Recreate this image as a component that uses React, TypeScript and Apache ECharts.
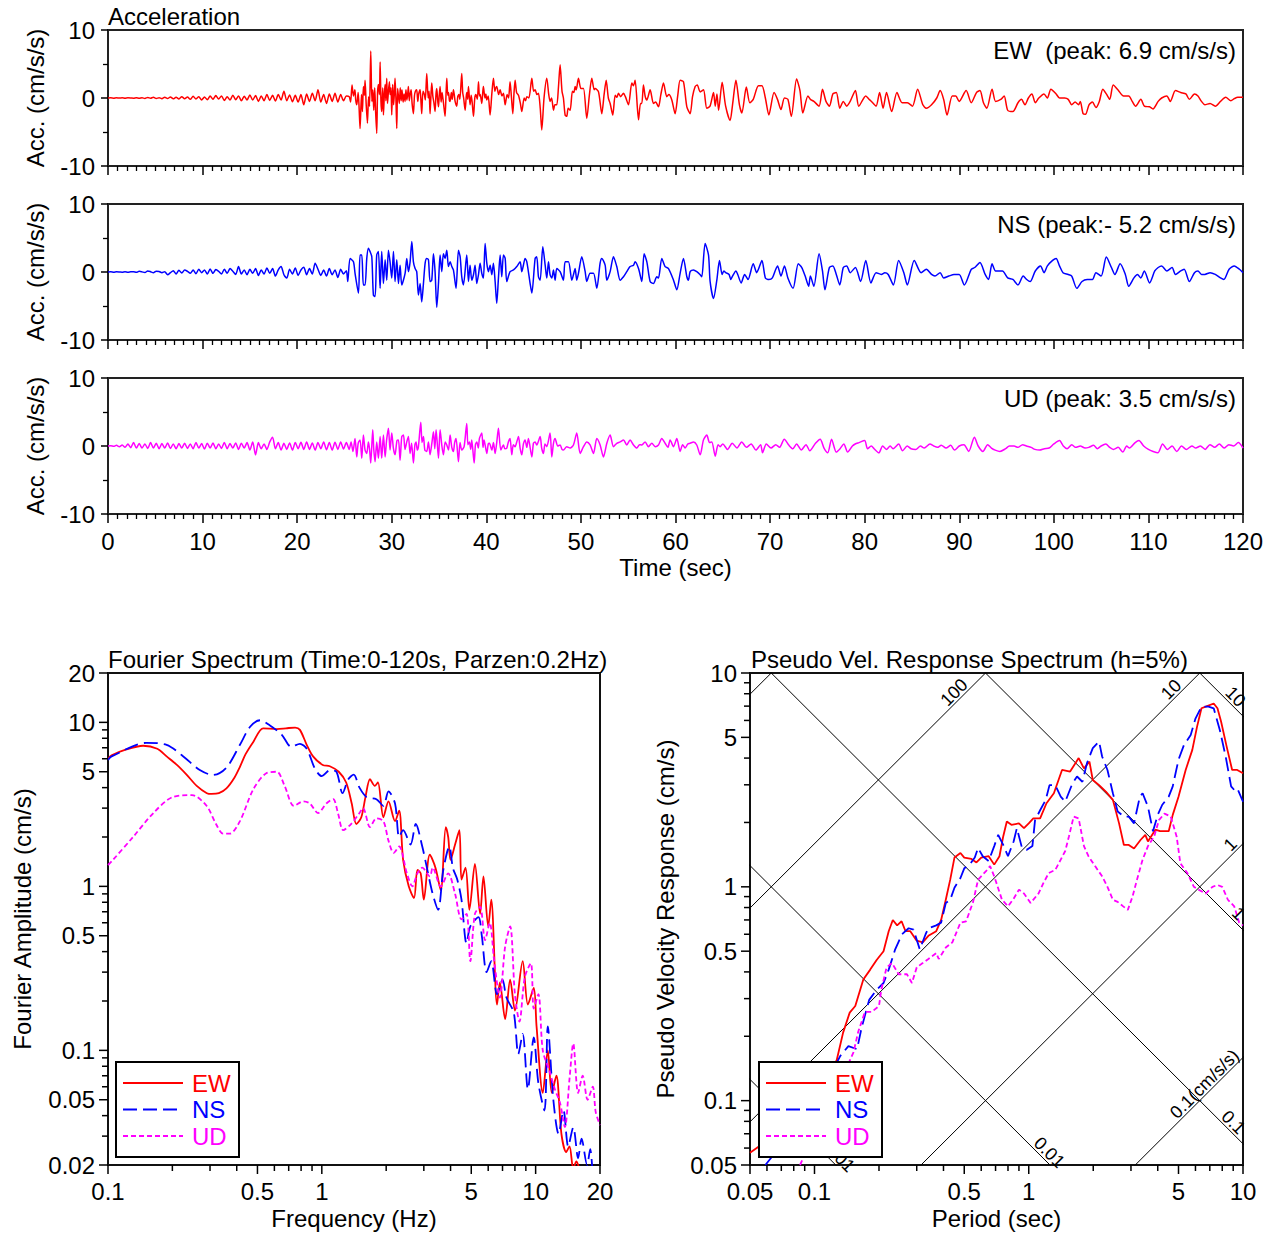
import React, { useEffect, useRef } from 'react';
import * as echarts from 'echarts';

const FONT = "'Liberation Sans', Arial, Helvetica, sans-serif";
const FS = 24;

// ---------- Time histories ----------
const TIME_MAX = 120;
const NOISE_DT = 0.3; // spacing of the pre-event noise samples (s)

const ewNoise = [
  0, 0.02, -0.02, 0.03, -0.01, 0.02, -0.03, 0.02, 0.01, -0.02,
  0.04, -0.05, 0.03, -0.06, 0.08, -0.04, 0.1, -0.08, 0.05, -0.1,
  0.12, -0.08, 0.15, -0.12, 0.1, -0.15, 0.2, -0.1, 0.15, -0.2,
  0.25, -0.15, 0.2, -0.3, 0.15, -0.25, 0.3, -0.2, 0.35, -0.15,
  0.3, -0.35, 0.2, -0.3, 0.4, -0.25, 0.3, -0.4, 0.25, -0.3,
  0.45, -0.3, 0.35, -0.5, 0.3, -0.4, 0.5, -0.35, 0.4, -0.45,
  0.5, -0.3, 1.0, -0.4, 0.45, -0.55, 0.4, -0.6, 0.5, -1.0,
  0.6, -0.5, 0.7, -0.4, 1.2, -0.6, 0.5, -0.8, 0.6, -0.5,
  0.7, -0.6, 0.5, -0.4, 0.3,
];
const ewWave: [number, number][] = [
  [25.5,0.2],[25.65,-0.6],[25.8,1.9],[25.95,0.3],[26.1,1.2],[26.2,-0.4],[26.3,-1.0],[26.45,0.8],[26.55,-1.5],[26.65,-4.5],
  [26.8,0.5],[26.9,-2.0],[27.0,1.7],[27.1,0.4],[27.18,2.6],[27.3,-1.0],[27.43,-3.7],[27.55,0.2],[27.65,-1.2],[27.78,6.9],
  [27.9,-0.5],[28.0,1.2],[28.1,-1.8],[28.2,1.5],[28.3,-2.2],[28.41,-5.2],[28.5,0.8],[28.6,2.0],[28.7,0.5],[28.77,5.3],
  [28.86,-0.5],[28.94,-2.0],[29.05,1.5],[29.12,-2.5],[29.22,0.6],[29.3,2.0],[29.38,-0.4],[29.47,2.9],[29.55,-0.8],[29.65,1.0],
  [29.75,2.4],[29.82,0.5],[29.92,1.5],[30.0,-2.5],[30.1,2.0],[30.2,-1.0],[30.28,0.8],[30.35,2.9],[30.45,-0.5],[30.53,-4.5],
  [30.62,1.4],[30.71,0.2],[30.8,-0.8],[30.9,1.5],[31.0,-0.4],[31.08,1.2],[31.2,-0.6],[31.3,0.6],[31.41,-0.5],[31.5,1.2],
  [31.6,-0.3],[31.7,0.8],[31.76,1.7],[31.85,-0.4],[31.95,0.6],[32.05,1.2],[32.15,-0.8],[32.29,-2.3],[32.4,0.3],[32.5,1.0],
  [32.64,1.2],[32.75,-0.5],[32.85,0.6],[33.0,1.2],[33.1,-0.8],[33.17,-2.3],[33.3,1.0],[33.45,0.5],[33.55,-0.3],[33.7,3.6],
  [33.85,0.0],[33.95,1.0],[34.05,-2.3],[34.15,0.5],[34.23,2.2],[34.35,0.2],[34.45,-0.6],[34.58,-2.0],[34.68,0.6],[34.76,1.4],
  [34.85,-0.3],[34.94,-1.3],[35.02,0.4],[35.11,1.7],[35.22,-0.6],[35.32,0.8],[35.45,-0.5],[35.64,-2.7],[35.74,0.6],[35.82,2.9],
  [35.92,0.4],[36.0,0.8],[36.1,-0.4],[36.17,-0.5],[36.3,0.8],[36.4,-0.2],[36.52,1.2],[36.62,0.4],[36.7,-0.5],[36.87,-1.2],
  [36.98,0.2],[37.1,0.5],[37.2,-0.2],[37.4,3.6],[37.5,0.8],[37.6,0.0],[37.76,-1.8],[37.88,0.3],[37.95,0.8],[38.03,-0.2],
  [38.11,1.7],[38.28,-1.0],[38.4,0.4],[38.5,-0.6],[38.64,-2.7],[38.78,0.0],[38.9,0.5],[39.05,-0.2],[39.17,2.4],[39.27,0.3],
  [39.35,0.5],[39.52,-0.8],[39.62,0.8],[39.69,1.7],[39.85,0.0],[39.95,0.6],[40.05,-0.3],[40.2,0.3],[40.4,-2.5],[40.58,0.6],
  [40.75,2.9],[40.9,1.0],[41.0,1.5],[41.1,1.7],[41.3,0.5],[41.46,1.2],[41.65,0.3],[41.81,0.7],[41.99,-1.0],[42.2,0.5],
  [42.35,0.0],[42.51,2.4],[42.65,0.2],[42.8,-2.3],[42.92,0.6],[43.04,2.6],[43.2,0.8],[43.4,0.4],[43.6,-0.8],[43.75,-2.0],
  [44.0,0.0],[44.15,-0.4],[44.28,0.2],[44.5,0.0],[44.81,2.9],[45.0,1.0],[45.16,1.2],[45.35,0.5],[45.51,0.7],[45.7,-1.5],
  [45.86,-4.7],[46.1,0.0],[46.39,2.9],[46.6,0.5],[46.74,-0.5],[46.9,0.0],[47.1,-1.8],[47.25,-1.0],[47.45,-1.0],[47.62,1.5],
  [47.8,4.9],[48.0,1.0],[48.15,0.0],[48.33,-2.5],[48.5,-2.7],[48.65,-1.5],[48.86,-1.8],[49.1,1.0],[49.25,0.8],[49.39,1.7],
  [49.5,1.2],[49.74,2.9],[50.0,1.4],[50.27,1.4],[50.62,-3.0],[50.9,0.5],[51.15,2.9],[51.4,1.2],[51.5,1.4],[51.86,0.9],
  [52.21,-2.3],[52.45,0.5],[52.67,2.6],[52.9,0.0],[53.09,-0.8],[53.37,-2.5],[53.62,0.4],[53.8,0.1],[53.97,0.7],[54.2,0.2],
  [54.5,0.7],[54.7,0.2],[55.03,-1.0],[55.38,2.2],[55.55,1.8],[55.73,2.6],[56.09,-3.2],[56.3,-0.8],[56.44,-0.8],[56.61,1.9],
  [56.8,0.2],[56.97,-0.3],[57.32,1.2],[57.67,-0.8],[57.9,-0.6],[58.2,-1.3],[58.45,0.5],[58.73,2.2],[59.08,0.2],[59.3,0.5],
  [59.61,-0.3],[59.96,-2.3],[60.25,0.5],[60.49,2.6],[60.84,2.4],[61.2,-1.3],[61.55,-2.3],[61.8,0.2],[62.08,1.7],[62.3,1.9],
  [62.61,0.9],[62.96,1.2],[63.31,-1.5],[63.65,-1.2],[64.02,0.8],[64.2,-1.2],[64.38,0.6],[64.56,-1.8],[64.93,2.3],[65.3,-1.2],
  [65.77,-3.3],[66.03,-1.0],[66.39,2.6],[66.76,-1.0],[67.02,-2.2],[67.49,1.6],[67.86,-0.7],[68.22,-0.2],[68.77,1.8],[69.14,1.8],
  [69.5,0.0],[69.87,-2.5],[70.42,0.8],[70.78,-0.2],[71.15,-1.7],[71.52,0.0],[71.88,-0.2],[72.25,-2.7],[72.8,2.8],[73.16,1.1],
  [73.46,-2.2],[74.0,0.3],[74.26,-0.2],[74.63,-0.5],[75.18,-1.2],[75.54,1.3],[75.91,-0.5],[76.27,-1.2],[76.64,0.6],[77.0,0.8],
  [77.37,-1.5],[77.74,-0.5],[78.1,-1.2],[78.47,-0.5],[79.02,1.1],[79.38,-1.2],[80.12,0.3],[80.48,-0.2],[80.85,-0.7],[81.21,-1.2],
  [81.58,0.8],[81.95,-1.5],[82.31,0.8],[82.86,-2.0],[83.41,0.8],[83.96,-0.7],[84.51,-0.7],[85.05,-1.2],[85.6,1.3],[86.15,-1.0],
  [86.52,-1.5],[87.07,-1.0],[87.62,0.0],[87.98,1.1],[88.35,-0.2],[88.71,-2.5],[89.26,0.3],[89.63,0.3],[89.99,-0.5],[90.73,1.1],
  [91.27,-0.7],[91.82,0.8],[92.19,1.1],[92.56,-0.7],[92.92,-1.5],[93.47,1.3],[93.84,-0.5],[94.39,-0.2],[94.75,0.3],[95.12,-1.8],
  [95.67,-2.0],[96.21,-0.7],[96.58,-0.2],[96.95,-1.0],[97.31,0.0],[97.68,0.6],[98.04,-0.7],[98.41,0.0],[98.96,0.6],[99.32,0.0],
  [99.69,1.3],[100.24,0.6],[100.6,0.0],[101.15,0.0],[101.52,-0.2],[101.89,-1.0],[102.25,-0.6],[102.62,-1.0],[102.8,-0.5],[103.09,-2.3],
  [103.35,-2.4],[103.72,-1.0],[104.08,-0.6],[104.45,-1.4],[104.81,-0.5],[105.18,1.3],[105.55,0.6],[105.91,-0.2],[106.28,1.9],[106.83,1.1],
  [107.37,0.3],[107.92,0.3],[108.29,-0.5],[108.65,-1.2],[109.2,-0.2],[109.57,-1.2],[110.12,-1.3],[110.48,-1.6],[111.03,-0.5],[111.4,0.0],
  [111.95,0.3],[112.31,-0.5],[112.86,1.1],[113.41,0.8],[113.96,0.6],[114.33,-0.2],[114.87,0.6],[115.24,0.3],[115.61,-0.5],[115.97,-1.0],
  [116.52,-0.8],[117.07,-1.2],[117.62,-0.5],[118.17,0.1],[118.72,-0.4],[119.08,-0.1],[119.45,0.1],[120,0.1],
];

const nsNoise = [
  0, 0.02, -0.03, 0.03, 0.01, -0.02, 0.04, -0.03, 0.02, 0.05,
  -0.05, 0.1, 0.02, -0.08, 0.15, 0.05, -0.1, 0.12, 0.08, -0.1,
  0.05, -0.4, -0.1, 0.2, -0.3, 0.25, -0.15, 0.3, 0.1, -0.2,
  0.3, -0.25, 0.4, -0.1, 0.3, -0.3, 0.45, -0.2, 0.35, 0.1,
  -0.3, 0.4, -0.2, 0.5, 0.1, -0.35, 0.8, -0.3, 0.3, -0.4,
  0.4, -0.2, 0.5, -0.5, 0.3, -0.3, 0.6, -0.2, 0.5, -0.6,
  0.3, 0.8, -0.4, -0.9, 0.4, -0.3, 0.6, -0.5, 0.3, 0.7,
  -0.4, 0.5, -0.3, 1.3, 0.4, -0.5, 0.3, -0.6, 0.5, -0.4,
  0.3, -0.8, 0.4, -0.3, 0.2,
];
const nsWave: [number, number][] = [
  [25.35,-1.4],[25.59,2.0],[25.95,1.5],[26.12,-0.2],[26.48,-3.1],[26.65,2.5],[26.83,2.5],[27.0,-1.9],[27.18,-1.9],[27.36,2.0],
  [27.53,3.5],[27.71,3.0],[27.89,2.25],[28.06,-3.4],[28.24,-3.6],[28.41,2.5],[28.59,3.0],[28.77,-2.4],[28.94,3.0],[29.12,-1.7],
  [29.3,1.8],[29.47,-1.2],[29.65,3.2],[29.82,1.5],[30.0,-0.9],[30.18,3.0],[30.35,-1.4],[30.53,1.8],[30.71,-1.7],[30.88,1.0],
  [31.06,-1.9],[31.41,-0.2],[31.59,2.0],[31.76,0.05],[31.94,1.5],[32.12,4.5],[32.29,1.5],[32.47,0.5],[32.64,0.05],[32.82,-3.4],
  [33.0,-1.7],[33.17,-4.4],[33.35,-1.7],[33.53,1.3],[33.7,2.0],[33.88,1.8],[34.05,-1.4],[34.23,-1.2],[34.41,2.7],[34.58,0.05],
  [34.76,-5.2],[34.94,-1.7],[35.11,2.5],[35.29,0.05],[35.46,2.7],[35.64,2.0],[35.82,3.2],[35.99,0.8],[36.17,1.5],[36.35,0.8],
  [36.52,0.3],[36.8,-2.4],[37.05,3.2],[37.23,2.25],[37.4,-0.7],[37.58,-1.9],[37.93,2.5],[38.11,-1.4],[38.28,1.0],[38.46,-1.2],
  [38.64,-0.4],[38.81,1.0],[38.99,-1.7],[39.17,-0.4],[39.34,1.3],[39.52,-0.2],[39.69,-0.9],[39.87,4.2],[40.05,1.3],[40.22,0.05],
  [40.4,1.0],[40.58,-0.4],[40.75,1.3],[40.93,-1.4],[41.1,-4.6],[41.28,-0.9],[41.46,2.5],[41.63,-0.7],[41.81,2.5],[41.99,2.0],
  [42.16,-1.4],[42.51,0.05],[42.87,0.3],[43.22,0.8],[43.57,1.5],[43.75,0.05],[43.92,1.0],[44.1,2.0],[44.28,1.5],[44.63,-1.7],
  [44.81,-3.1],[45.16,2.0],[45.33,2.25],[45.51,-0.7],[45.69,-1.2],[45.97,3.7],[46.22,1.0],[46.39,-0.9],[46.57,1.5],[46.74,-0.4],
  [46.92,-0.9],[47.1,0.3],[47.27,-1.2],[47.45,0.5],[47.8,0.05],[48.15,-1.2],[48.33,1.5],[48.68,1.5],[49.04,-1.2],[49.21,-0.4],
  [49.39,0.5],[49.56,-1.2],[49.74,-0.2],[50.09,2.25],[50.45,0.05],[50.62,-1.4],[50.97,-0.2],[51.33,-0.2],[51.68,-2.4],[52.03,1.3],
  [52.21,2.0],[52.56,1.0],[52.74,-1.2],[53.09,0.05],[53.44,2.25],[53.79,0.8],[54.15,-1.2],[54.5,-0.7],[54.85,0.05],[55.2,0.8],
  [55.56,1.0],[55.73,1.5],[56.09,0.5],[56.44,-1.4],[56.68,2.7],[56.97,1.5],[57.32,-1.4],[57.67,-1.7],[58.02,-0.7],[58.2,-0.9],
  [58.55,2.0],[58.9,0.8],[59.26,0.5],[59.79,-1.2],[60.14,-2.6],[60.49,-0.2],[60.84,2.0],[61.2,-0.7],[61.37,-1.2],[61.55,0.05],
  [61.9,0.3],[62.25,0.05],[62.61,-0.4],[62.78,-0.7],[63.13,4.2],[63.49,2.5],[63.66,-1.4],[64.02,-3.9],[64.37,-1.2],[64.65,1.7],
  [64.93,-0.36],[65.11,0.15],[65.3,-0.1],[65.66,-0.36],[65.85,-1.1],[66.03,-0.6],[66.39,0.15],[66.58,-0.36],[66.94,-1.6],[67.31,-0.36],
  [67.67,-1.1],[68.22,1.2],[68.59,-0.1],[68.77,0.4],[69.14,1.7],[69.5,-0.87],[69.87,-1.1],[70.24,-0.87],[70.6,0.4],[70.79,0.9],
  [71.15,-0.6],[71.52,0.9],[71.88,-0.87],[72.43,-2.4],[72.98,1.2],[73.35,0.66],[73.71,-0.6],[74.08,-2.1],[74.26,-0.6],[74.63,-2.1],
  [75.18,2.7],[75.54,0.15],[75.8,-2.6],[76.27,0.66],[76.64,0.9],[77.0,-0.36],[77.37,-1.9],[77.74,0.66],[78.1,0.9],[78.47,-0.1],
  [79.02,0.66],[79.57,-1.4],[80.12,1.7],[80.66,-1.6],[81.21,-0.1],[81.76,-0.36],[82.13,-0.1],[82.49,-0.36],[83.04,-1.9],[83.59,1.7],
  [84.14,-0.1],[84.51,-1.9],[85.24,1.7],[85.97,-0.1],[86.52,0.4],[87.07,-0.36],[87.43,-0.6],[87.98,-0.1],[88.35,-0.87],[88.9,-0.6],
  [89.45,-0.36],[89.99,-0.36],[90.54,-1.9],[91.27,0.4],[91.64,0.66],[92.19,1.4],[92.74,-0.36],[93.1,-1.1],[93.47,1.2],[93.84,0.15],
  [94.2,0.15],[94.57,0.15],[95.12,-0.87],[95.67,-1.1],[96.21,-1.9],[96.76,-0.6],[97.13,-1.1],[97.5,-1.4],[98.04,0.15],[98.59,0.9],
  [98.96,-0.1],[99.32,0.9],[99.87,1.7],[100.24,2.0],[100.6,0.9],[100.97,-0.1],[101.52,-0.36],[101.89,-0.6],[102.43,-2.4],[102.98,-1.4],
  [103.53,-1.1],[104.08,-1.1],[104.45,-0.1],[105.0,-0.6],[105.55,2.2],[106.09,0.66],[106.46,-0.36],[107.01,1.2],[107.56,-0.36],[107.92,-2.1],
  [108.47,-0.87],[108.84,-0.36],[109.2,-0.87],[109.57,0.15],[110.12,-1.6],[110.67,0.15],[111.03,0.66],[111.4,0.9],[111.95,0.15],[112.5,0.66],
  [112.86,-0.36],[113.41,0.15],[113.78,0.4],[114.33,-1.4],[114.87,-0.1],[115.24,0.15],[115.61,-0.36],[115.97,-0.36],[116.52,-0.1],[117.07,-0.36],
  [117.62,-0.87],[117.98,-1.1],[118.53,0.4],[119.08,0.9],[119.63,0.4],[120,-0.1],
];

const udNoise = [
  0, 0.05, -0.05, 0.1, -0.1, 0.15, -0.2, 0.3, -0.25, 0.5,
  -0.3, 0.35, -0.3, 0.3, -0.35, 0.5, -0.3, 0.4, -0.4, 0.35,
  -0.3, 0.45, -0.35, 0.3, -0.4, 0.35, -0.3, 0.4, -0.35, 0.3,
  -0.4, 0.5, -0.3, 0.35, -0.45, 0.4, -0.3, 0.45, -0.4, 0.3,
  -0.35, 0.5, -0.4, 0.35, -0.3, 0.45, -0.5, 0.4, -0.3, 0.5,
  -0.6, 0.6, -1.3, 0.5, -0.4, 0.3, -0.5, 0.6, 1.3, -0.4,
  0.5, -0.6, 0.4, -0.5, 0.45, -0.6, 0.5, -0.4, 0.55, -0.5,
  0.6, -0.5, 0.45, -0.6, 0.5, -0.4, 0.6, -0.55, 0.5, -0.6,
  0.55, -0.5, 0.6, -0.45, 0.5,
];
const udWave: [number, number][] = [
  [25.5,-0.5],[25.7,0.6],[25.9,-0.8],[26.12,1.1],[26.3,-1.6],[26.45,0.4],[26.65,0.9],[26.83,-1.8],[27.0,1.6],[27.18,-0.6],
  [27.36,-1.1],[27.53,0.6],[27.65,-0.4],[27.78,-2.5],[27.99,2.4],[28.1,-0.5],[28.24,-2.3],[28.41,0.6],[28.59,-1.8],[28.77,1.4],
  [28.94,-1.8],[29.12,1.6],[29.3,-1.6],[29.45,0.8],[29.65,2.6],[29.82,-0.6],[30.0,1.9],[30.18,-0.4],[30.35,-1.3],[30.55,0.8],
  [30.71,0.9],[30.88,-2.1],[31.06,1.4],[31.24,1.6],[31.4,-0.5],[31.59,0.6],[31.76,1.4],[31.94,-1.1],[32.1,0.4],[32.29,-2.5],
  [32.45,0.2],[32.57,0.6],[32.7,-0.6],[32.82,-0.1],[33.07,3.5],[33.2,0.5],[33.35,1.4],[33.5,-0.6],[33.7,-0.8],[33.88,0.6],
  [34.05,-1.3],[34.25,0.5],[34.41,2.1],[34.55,-0.4],[34.69,2.4],[34.94,-1.8],[35.11,2.4],[35.3,0.0],[35.46,-1.3],[35.65,0.6],
  [35.82,0.15],[36.0,-0.6],[36.17,1.6],[36.35,-0.2],[36.52,-0.8],[36.65,0.5],[36.8,1.1],[37.05,-2.3],[37.22,0.5],[37.4,-0.6],
  [37.65,-0.1],[37.93,3.3],[38.05,0.2],[38.21,0.6],[38.35,-0.5],[38.46,0.9],[38.71,-2.5],[38.85,0.2],[38.99,0.6],[39.15,-0.3],
  [39.27,1.1],[39.52,1.9],[39.65,-0.2],[39.76,0.9],[40.05,-1.1],[40.2,0.3],[40.33,0.4],[40.58,-0.6],[40.75,0.5],[40.93,-1.1],
  [41.1,0.5],[41.28,2.6],[41.53,-0.6],[41.81,0.15],[41.95,-0.4],[42.16,-0.3],[42.33,0.6],[42.51,1.1],[42.69,-1.3],[42.85,0.2],
  [43.04,-0.1],[43.2,0.5],[43.4,1.4],[43.57,-0.3],[43.75,-1.3],[43.92,0.3],[44.1,0.9],[44.28,-0.2],[44.45,1.1],[44.81,-1.6],
  [44.98,0.4],[45.16,0.6],[45.33,0.15],[45.69,1.4],[45.85,-0.3],[46.04,-1.1],[46.2,0.3],[46.39,-0.1],[46.74,1.9],[46.92,-1.6],
  [47.1,0.4],[47.27,1.1],[47.55,0.0],[47.8,0.15],[48.0,-0.5],[48.15,-0.6],[48.5,-0.1],[48.86,-0.3],[49.21,0.15],[49.56,1.9],
  [49.92,-1.1],[50.27,-0.1],[50.62,0.6],[50.97,0.15],[51.33,-1.1],[51.68,1.1],[52.03,0.15],[52.38,-1.6],[52.74,0.4],[53.09,1.6],
  [53.44,-0.1],[53.79,0.4],[54.15,0.6],[54.5,0.9],[54.85,0.15],[55.2,0.9],[55.56,0.15],[55.91,-0.3],[56.2,0.2],[56.44,0.15],
  [56.79,0.6],[57.14,-0.1],[57.5,0.4],[57.85,-0.1],[58.2,0.15],[58.55,1.1],[58.9,0.4],[59.2,-0.2],[59.43,0.9],[59.79,-0.1],
  [60.14,1.1],[60.49,-0.8],[60.75,0.2],[61.02,-0.3],[61.3,0.3],[61.55,0.4],[61.9,0.6],[62.25,0.15],[62.61,-1.3],[62.96,0.9],
  [63.31,1.6],[63.6,0.5],[63.84,0.6],[64.2,-1.5],[64.5,0.2],[64.72,-0.1],[65.0,0.3],[65.5,-0.5],[66.0,0.4],[66.5,-0.3],
  [67.0,0.6],[67.5,-0.2],[68.0,0.3],[68.5,-0.6],[69.0,0.2],[69.2,-1.0],[69.6,0.3],[70.1,-0.3],[70.6,0.2],[71.0,-0.2],
  [71.5,1.0],[72.0,0.1],[72.4,-0.4],[72.8,0.3],[73.3,-0.6],[73.8,0.2],[74.2,-0.7],[74.8,0.4],[75.3,1.0],[75.7,-0.3],
  [76.1,-1.0],[76.5,1.0],[77.0,-0.9],[77.4,-0.4],[77.8,0.3],[78.2,-0.9],[78.7,0.0],[79.0,0.3],[79.4,0.5],[80.0,0.8],
  [80.3,-0.4],[80.7,0.0],[81.0,-0.4],[81.5,-1.0],[81.9,0.0],[82.3,-0.5],[82.7,0.0],[83.0,-0.4],[83.6,0.3],[84.0,-0.7],
  [84.5,0.0],[84.9,-0.4],[85.4,-0.5],[85.9,0.0],[86.3,-0.3],[86.9,0.3],[87.3,0.0],[87.7,-0.2],[88.1,0.1],[88.6,-0.3],
  [89.1,0.1],[89.5,-0.6],[90.0,0.0],[90.5,0.2],[91.0,-0.8],[91.6,1.3],[92.0,0.0],[92.5,-0.8],[93.0,0.2],[93.4,-0.3],
  [93.8,-0.6],[94.3,-0.8],[94.9,-0.4],[95.3,0.0],[95.8,0.0],[96.2,-0.2],[96.7,0.2],[97.1,0.0],[97.6,-0.2],[98.0,-0.5],
  [98.5,-0.6],[99.0,-0.4],[99.5,-0.3],[100.0,0.3],[100.6,0.8],[101.0,0.0],[101.4,-0.4],[101.9,0.2],[102.3,-0.2],[102.8,0.0],
  [103.3,-0.3],[103.7,-0.2],[104.2,0.1],[104.6,-0.4],[105.0,0.0],[105.5,0.3],[105.9,-0.2],[106.3,-0.5],[106.8,-0.2],[107.3,-0.9],
  [107.7,0.0],[108.0,-0.3],[108.6,0.5],[109.0,0.8],[109.5,0.0],[110.0,-0.5],[110.5,-0.8],[111.0,-1.0],[111.5,0.3],[112.0,-0.5],
  [112.5,0.0],[113.0,-0.8],[113.5,0.0],[114.0,-0.5],[114.6,0.0],[115.0,-0.3],[115.5,0.0],[116.0,-0.5],[116.5,0.2],[117.0,-0.2],
  [117.5,0.3],[118.0,-0.3],[118.5,0.2],[119.0,0.0],[119.5,0.5],[120.0,-0.3],
];

// ---------- Fourier spectra [frequency Hz, amplitude cm/s] ----------
const fourierEW: [number, number][] = [
  [0.1,6.0],[0.104,6.3],[0.12,6.8],[0.146,7.2],[0.17,6.9],[0.188,6.2],[0.21,5.5],[0.233,4.8],[0.26,4.1],[0.29,3.7],
  [0.305,3.66],[0.33,3.7],[0.358,3.96],[0.39,4.6],[0.414,5.36],[0.44,6.4],[0.478,7.6],[0.532,9.2],[0.616,9.1],[0.68,9.2],
  [0.75,9.3],[0.79,9.0],[0.85,7.3],[0.91,6.2],[1.01,5.5],[1.09,5.4],[1.2,5.0],[1.3,4.3],[1.38,3.2],[1.45,2.4],
  [1.53,2.64],[1.6,3.5],[1.68,4.5],[1.77,4.1],[1.83,4.3],[1.94,2.64],[2.05,3.3],[2.2,2.5],[2.3,2.9],[2.4,1.45],
  [2.55,1.0],[2.7,0.85],[2.8,1.26],[2.9,1.2],[3.0,0.83],[3.2,1.56],[3.4,1.3],[3.6,0.95],[3.8,2.3],[3.9,2.0],
  [4.0,1.45],[4.2,1.8],[4.4,2.2],[4.5,1.1],[4.7,1.3],[4.9,0.72],[5.2,1.37],[5.5,0.68],[5.7,1.15],[6.0,0.57],
  [6.2,0.83],[6.6,0.19],[6.8,0.26],[7.2,0.155],[7.6,0.27],[8.0,0.175],[8.7,0.35],[9.2,0.19],[9.8,0.24],[10.1,0.14],
  [10.8,0.055],[11.4,0.1],[11.9,0.055],[12.5,0.07],[13.2,0.031],[13.9,0.024],[14.4,0.026],[15.0,0.019],[15.5,0.021],[16.2,0.018],
  [17,0.015],
];
const fourierNS: [number, number][] = [
  [0.1,5.9],[0.104,6.2],[0.151,7.5],[0.188,7.3],[0.225,6.2],[0.27,5.1],[0.31,4.78],[0.358,5.3],[0.414,7.3],[0.462,9.4],
  [0.514,10.3],[0.57,9.6],[0.65,8.4],[0.72,7.1],[0.79,7.4],[0.85,6.9],[0.93,5.2],[1.0,4.7],[1.09,5.1],[1.17,5.0],
  [1.25,3.7],[1.33,4.5],[1.41,4.8],[1.5,4.0],[1.62,3.5],[1.8,3.4],[1.94,3.1],[2.05,3.8],[2.2,3.2],[2.3,2.0],
  [2.4,2.2],[2.6,1.8],[2.75,2.4],[2.95,1.75],[3.1,1.3],[3.3,0.9],[3.5,0.72],[3.7,1.26],[3.95,1.75],[4.1,1.3],
  [4.3,1.1],[4.5,0.83],[4.75,0.45],[4.95,0.57],[5.4,0.65],[5.6,0.5],[5.9,0.3],[6.2,0.35],[6.6,0.22],[7.0,0.27],
  [7.3,0.21],[7.9,0.17],[8.3,0.095],[8.7,0.126],[9.2,0.058],[9.8,0.12],[10.3,0.063],[11.0,0.043],[11.4,0.14],[12.1,0.05],
  [12.8,0.031],[13.5,0.043],[14.2,0.026],[15.0,0.034],[15.8,0.022],[16.4,0.029],[17.4,0.02],[18.0,0.025],[18.5,0.017],
];
const fourierUD: [number, number][] = [
  [0.1,1.35],[0.104,1.42],[0.131,2.0],[0.163,2.8],[0.2,3.5],[0.247,3.6],[0.289,3.1],[0.32,2.4],[0.345,2.1],[0.372,2.1],
  [0.414,2.5],[0.478,3.9],[0.55,4.9],[0.616,5.0],[0.67,4.1],[0.74,3.1],[0.82,3.3],[0.88,3.2],[0.96,2.8],[1.05,3.2],
  [1.13,3.4],[1.19,2.8],[1.26,2.2],[1.37,2.4],[1.5,2.8],[1.56,3.0],[1.68,2.3],[1.8,2.6],[1.94,2.5],[2.05,1.9],
  [2.17,1.6],[2.3,1.75],[2.5,1.2],[2.65,1.0],[2.8,1.2],[2.95,1.3],[3.2,1.15],[3.3,1.3],[3.6,1.0],[3.9,1.2],
  [4.2,0.9],[4.5,0.63],[4.75,0.68],[4.95,0.35],[5.2,0.68],[5.5,0.75],[5.8,0.47],[6.1,0.6],[6.4,0.35],[6.8,0.21],
  [7.2,0.43],[7.6,0.57],[8.0,0.22],[8.4,0.15],[8.9,0.28],[9.5,0.34],[9.8,0.18],[10.3,0.22],[10.8,0.1],[11.6,0.075],
  [12.3,0.058],[13.0,0.048],[13.7,0.034],[14.4,0.067],[15.0,0.11],[15.8,0.055],[16.6,0.07],[17.5,0.05],[18.5,0.06],[19.1,0.042],
  [20,0.035],
];

// ---------- Pseudo velocity response spectra [period s, PSV cm/s] ----------
const psvEW: [number, number][] = [
  [0.05,0.057],[0.06,0.065],[0.07,0.075],[0.085,0.09],[0.1,0.105],[0.115,0.125],[0.127,0.155],[0.136,0.208],[0.146,0.258],[0.155,0.277],
  [0.169,0.369],[0.182,0.41],[0.195,0.455],[0.21,0.5],[0.222,0.62],[0.232,0.7],[0.243,0.66],[0.255,0.69],[0.266,0.62],[0.28,0.62],
  [0.3,0.56],[0.32,0.55],[0.34,0.59],[0.37,0.62],[0.39,0.7],[0.41,0.87],[0.43,1.08],[0.45,1.37],[0.48,1.44],[0.5,1.37],
  [0.54,1.35],[0.57,1.3],[0.6,1.37],[0.65,1.39],[0.69,1.27],[0.73,1.39],[0.76,1.72],[0.79,2.02],[0.83,1.95],[0.9,1.98],
  [0.95,1.88],[1.0,1.98],[1.05,2.09],[1.13,2.09],[1.21,2.46],[1.31,2.74],[1.43,3.52],[1.56,3.46],[1.71,4.0],[1.81,3.58],
  [1.92,3.85],[1.99,3.16],[2.13,2.99],[2.29,2.79],[2.47,2.55],[2.64,1.98],[2.78,1.57],[2.93,1.57],[3.1,1.51],[3.33,1.66],
  [3.5,1.75],[3.6,1.63],[3.9,1.85],[4.1,1.82],[4.5,1.82],[4.7,2.17],[5.0,2.64],[5.4,3.52],[5.8,4.37],[6.1,5.6],
  [6.4,6.84],[6.7,6.96],[7.3,7.2],[7.6,6.84],[7.9,5.93],[8.4,4.5],[8.9,3.52],[9.4,3.52],[10,3.4],
];
const psvNS: [number, number][] = [
  [0.059,0.05],[0.07,0.062],[0.085,0.08],[0.1,0.1],[0.115,0.125],[0.132,0.162],[0.144,0.18],[0.158,0.174],[0.166,0.22],[0.18,0.296],
  [0.195,0.33],[0.21,0.355],[0.222,0.41],[0.238,0.51],[0.256,0.6],[0.275,0.64],[0.29,0.63],[0.31,0.51],[0.33,0.6],[0.34,0.64],
  [0.37,0.66],[0.39,0.68],[0.41,0.84],[0.43,0.87],[0.45,0.99],[0.48,1.1],[0.5,1.22],[0.53,1.27],[0.56,1.37],[0.58,1.52],
  [0.61,1.39],[0.65,1.32],[0.69,1.55],[0.72,1.75],[0.76,1.57],[0.8,1.39],[0.85,1.63],[0.88,1.88],[0.93,1.52],[0.98,1.49],
  [1.04,1.55],[1.07,2.05],[1.13,2.28],[1.2,2.55],[1.25,2.99],[1.33,2.99],[1.41,2.64],[1.48,2.5],[1.6,3.05],[1.68,3.28],
  [1.78,3.1],[1.87,3.79],[1.99,4.45],[2.13,4.78],[2.2,4.07],[2.33,3.52],[2.47,2.74],[2.6,2.25],[2.78,2.13],[2.93,2.13],
  [3.1,1.98],[3.3,2.64],[3.4,2.74],[3.6,2.37],[3.8,1.82],[4.0,2.17],[4.2,2.42],[4.5,2.64],[4.7,2.95],[5.0,3.93],
  [5.3,4.6],[5.7,5.13],[6.0,6.12],[6.4,6.96],[6.9,6.96],[7.3,6.84],[7.8,5.4],[8.3,4.07],[8.8,2.95],[9.1,2.84],
  [9.4,2.89],[10,2.5],
];
const psvUD: [number, number][] = [
  [0.0856,0.05],[0.1,0.07],[0.12,0.1],[0.14,0.14],[0.152,0.168],[0.16,0.21],[0.172,0.26],[0.185,0.26],[0.2,0.277],[0.205,0.33],
  [0.217,0.42],[0.23,0.44],[0.247,0.39],[0.27,0.39],[0.285,0.355],[0.3,0.42],[0.32,0.44],[0.34,0.46],[0.37,0.49],[0.38,0.46],
  [0.41,0.52],[0.44,0.55],[0.48,0.68],[0.51,0.69],[0.55,0.85],[0.58,1.08],[0.63,1.18],[0.66,1.25],[0.69,1.12],[0.75,0.87],
  [0.8,0.81],[0.85,0.88],[0.9,0.97],[0.95,0.93],[1.02,0.84],[1.11,0.93],[1.17,1.04],[1.24,1.16],[1.33,1.2],[1.41,1.34],
  [1.48,1.47],[1.54,1.72],[1.62,2.13],[1.71,2.09],[1.81,1.55],[1.9,1.39],[2.04,1.25],[2.2,1.12],[2.33,1.0],[2.47,0.87],
  [2.6,0.85],[2.76,0.81],[2.9,0.78],[3.05,0.9],[3.2,1.08],[3.4,1.34],[3.6,1.55],[3.85,1.72],[4.05,2.05],[4.3,2.2],
  [4.6,2.13],[4.9,1.72],[5.1,1.29],[5.5,1.16],[5.9,1.0],[6.2,0.97],[6.7,0.93],[7.2,1.0],[7.6,1.02],[8.0,1.0],
  [8.5,0.87],[9.1,0.81],[9.6,0.68],[10,0.66],
];

// ---------- Axis labels ----------
const freqLabels = [0.1, 0.5, 1, 5, 10, 20];
const ampLabels = [0.02, 0.05, 0.1, 0.5, 1, 5, 10, 20];
const periodLabels = [0.05, 0.1, 0.5, 1, 5, 10];
const psvLabels = [0.05, 0.1, 0.5, 1, 5, 10];
const accelLevels = [0.1, 1, 10, 100, 1000]; // cm/s/s
const dispLevels = [0.001, 0.01, 0.1, 1, 10]; // cm
const tripLabels = [
  { kind: 'acc', level: 100, T: 0.478, text: '100' },
  { kind: 'acc', level: 10, T: 4.93, text: '10' },
  { kind: 'acc', level: 1, T: 9.3, text: '1' },
  { kind: 'acc', level: 0.1, T: 7.05, text: '0.1(cm/s/s)' },
  { kind: 'disp', level: 10, T: 8.65, text: '10' },
  { kind: 'disp', level: 1, T: 8.93, text: '1' },
  { kind: 'disp', level: 0.1, T: 8.46, text: '0.1' },
  { kind: 'disp', level: 0.01, T: 1.17, text: '0.01' },
  { kind: 'disp', level: 0.001, T: 0.118, text: '0.001' },
];

const COMPONENTS = [
  { name: 'EW', color: '#ff0000', dash: null as null | number[], noise: ewNoise, wave: ewWave, fourier: fourierEW, psv: psvEW, peak: 'EW  (peak: 6.9 cm/s/s)' },
  { name: 'NS', color: '#0000ff', dash: [14, 6], noise: nsNoise, wave: nsWave, fourier: fourierNS, psv: psvNS, peak: 'NS (peak:- 5.2 cm/s/s)' },
  { name: 'UD', color: '#ff00ff', dash: [5, 3], noise: udNoise, wave: udWave, fourier: fourierUD, psv: psvUD, peak: 'UD (peak: 3.5 cm/s/s)' },
];

const TOP_GRIDS = [30, 204, 378];
const GRID_H = 136;

function buildOption(): any {
  const txt = { fontFamily: FONT, fontSize: FS, color: '#000' };
  const grids: any[] = TOP_GRIDS.map((top) => ({ left: 108, top, width: 1135, height: GRID_H, show: true, borderColor: '#222', borderWidth: 2, backgroundColor: 'transparent' }));
  grids.push({ left: 108, top: 673, width: 492, height: 492, show: true, borderColor: '#111', borderWidth: 2 });
  grids.push({ left: 750, top: 673, width: 493, height: 492, show: true, borderColor: '#111', borderWidth: 2 });

  const xAxis: any[] = TOP_GRIDS.map((_, i) => ({
    type: 'value', gridIndex: i, min: 0, max: TIME_MAX, interval: 10,
    axisLine: { show: true, onZero: false, lineStyle: { color: '#222', width: 2 } },
    axisTick: { show: true, length: 9, lineStyle: { color: '#000', width: 1.5 } },
    minorTick: { show: true, splitNumber: 10, length: 5, lineStyle: { color: '#000', width: 1.3 } },
    splitLine: { show: false }, minorSplitLine: { show: false },
    axisLabel: { show: i === 2, margin: 15, ...txt },
    name: i === 2 ? 'Time (sec)' : '', nameLocation: 'middle', nameGap: 41, nameTextStyle: txt,
  }));
  const yAxis: any[] = TOP_GRIDS.map((_, i) => ({
    type: 'value', gridIndex: i, min: -10, max: 10, interval: 10,
    axisLine: { show: true, onZero: false, lineStyle: { color: '#222', width: 2 } },
    axisTick: { show: true, length: 7, lineStyle: { color: '#000', width: 1.5 } },
    minorTick: { show: true, splitNumber: 2, length: 5, lineStyle: { color: '#000', width: 1.3 } },
    splitLine: { show: false },
    axisLabel: { margin: 13, ...txt },
    name: 'Acc. (cm/s/s)', nameLocation: 'middle', nameGap: 61, nameTextStyle: txt,
  }));
  const logAxisBase = { type: 'log', logBase: 10, axisLine: { show: false }, axisTick: { show: false }, axisLabel: { show: false }, splitLine: { show: false }, nameLocation: 'middle', nameTextStyle: txt };
  xAxis.push({ ...logAxisBase, gridIndex: 3, min: 0.1, max: 20, name: 'Frequency (Hz)', nameGap: 41 });
  xAxis.push({ ...logAxisBase, gridIndex: 4, min: 0.05, max: 10, name: 'Period (sec)', nameGap: 41 });
  yAxis.push({ ...logAxisBase, gridIndex: 3, min: 0.02, max: 20, name: 'Fourier Amplitude (cm/s)', nameGap: 74 });
  yAxis.push({ ...logAxisBase, gridIndex: 4, min: 0.05, max: 10, name: 'Pseudo Velocity Response (cm/s)', nameGap: 73 });

  const series: any[] = [];
  COMPONENTS.forEach((c, i) => {
    const data = c.noise.map((v, k) => [+(k * NOISE_DT).toFixed(2), v]).concat(c.wave as any);
    series.push({ type: 'line', name: c.name + '-acc', xAxisIndex: i, yAxisIndex: i, data, symbol: 'none', smooth: 0.25, lineStyle: { color: c.color, width: 1.5 }, silent: true });
  });
  // tripartite grid lines (constant acceleration and constant displacement)
  const Ts = [0.005, 50];
  accelLevels.forEach((a) => series.push({ type: 'line', xAxisIndex: 4, yAxisIndex: 4, z: 1, silent: true, symbol: 'none', data: Ts.map((T) => [T, (a * T) / (2 * Math.PI)]), lineStyle: { color: '#000', width: 1 } }));
  dispLevels.forEach((d) => series.push({ type: 'line', xAxisIndex: 4, yAxisIndex: 4, z: 1, silent: true, symbol: 'none', data: Ts.map((T) => [T, (2 * Math.PI * d) / T]), lineStyle: { color: '#000', width: 1 } }));
  COMPONENTS.forEach((c) => {
    const ls = { color: c.color, width: 1.8, type: c.dash ? c.dash : 'solid' };
    series.push({ type: 'line', name: c.name + '-fs', xAxisIndex: 3, yAxisIndex: 3, data: c.fourier, symbol: 'none', smooth: 0.3, lineStyle: ls, silent: true, z: 3 });
    series.push({ type: 'line', name: c.name + '-psv', xAxisIndex: 4, yAxisIndex: 4, data: c.psv, symbol: 'none', lineStyle: ls, silent: true, z: 3 });
  });

  return { animation: false, backgroundColor: '#fff', textStyle: { fontFamily: FONT }, grid: grids, xAxis, yAxis, series };
}

function logTicks(min: number, max: number) {
  const out: number[] = [];
  for (let e = -3; e <= 2; e++) {
    for (let k = 1; k <= 9; k++) {
      const v = k * Math.pow(10, e);
      if (v >= min * 0.999 && v <= max * 1.001) out.push(v);
    }
  }
  return out;
}

function buildGraphic(chart: any): any[] {
  const els: any[] = [];
  const text = (x: number, y: number, t: string, align: string, extra: any = {}) => ({
    type: 'text', x, y, z: 100, ...extra,
    style: { text: t, fill: '#000', fontSize: FS, fontFamily: FONT, align, verticalAlign: 'middle', ...(extra.style || {}) },
  });
  els.push(text(108, 16, 'Acceleration', 'left'));
  COMPONENTS.forEach((c, i) => els.push(text(1236, TOP_GRIDS[i] + 20, c.peak, 'right')));
  els.push(text(108, 659, 'Fourier Spectrum (Time:0-120s, Parzen:0.2Hz)', 'left'));
  els.push(text(751, 659, 'Pseudo Vel. Response Spectrum (h=5%)', 'left'));

  const logPanel = (idx: number, xmin: number, xmax: number, ymin: number, ymax: number, xl: number[], yl: number[]) => {
    const X = (v: number) => chart.convertToPixel({ xAxisIndex: idx }, v) as number;
    const Y = (v: number) => chart.convertToPixel({ yAxisIndex: idx }, v) as number;
    const left = X(xmin);
    const bottom = Y(ymin);
    const isLab = (arr: number[], v: number) => arr.some((a) => Math.abs(a - v) / a < 1e-6);
    logTicks(xmin, xmax).forEach((v) => {
      const x = X(v);
      const len = isLab(xl, v) ? 9 : 6;
      els.push({ type: 'line', z: 100, shape: { x1: x, y1: bottom, x2: x, y2: bottom + len }, style: { stroke: '#000', lineWidth: 1.5 } });
    });
    logTicks(ymin, ymax).forEach((v) => {
      const y = Y(v);
      const len = isLab(yl, v) ? 9 : 6;
      els.push({ type: 'line', z: 100, shape: { x1: left - len, y1: y, x2: left, y2: y }, style: { stroke: '#000', lineWidth: 1.5 } });
    });
    xl.forEach((v) => els.push(text(X(v), bottom + 26, String(v), 'center')));
    yl.forEach((v) => els.push(text(left - 13, Y(v), String(v), 'right')));
  };
  logPanel(3, 0.1, 20, 0.02, 20, freqLabels, ampLabels);
  logPanel(4, 0.05, 10, 0.05, 10, periodLabels, psvLabels);

  // tripartite labels
  tripLabels.forEach((l) => {
    const v = l.kind === 'acc' ? (l.level * l.T) / (2 * Math.PI) : (2 * Math.PI * l.level) / l.T;
    const p = chart.convertToPixel({ gridIndex: 4 }, [l.T, v]) as number[];
    const acc = l.kind === 'acc';
    els.push({
      type: 'text', z: 50, x: p[0] + (acc ? -6 : 6), y: p[1] - 6, rotation: acc ? Math.PI / 4 : -Math.PI / 4,
      style: { text: l.text, fill: '#000', fontSize: 18, fontFamily: FONT, align: 'center', verticalAlign: 'middle' },
    });
  });

  // legends
  const legend = (x0: number, y0: number) => {
    els.push({ type: 'rect', z: 110, shape: { x: x0, y: y0, width: 123, height: 95 }, style: { fill: '#fff', stroke: '#000', lineWidth: 2 } });
    COMPONENTS.forEach((c, i) => {
      const y = y0 + 21 + i * 26.5;
      els.push({ type: 'line', z: 111, shape: { x1: x0 + 7, y1: y, x2: x0 + 67, y2: y }, style: { stroke: c.color, lineWidth: 1.8, lineDash: c.dash || null } });
      els.push({ type: 'text', z: 111, x: x0 + 76, y, style: { text: c.name, fill: c.color, fontSize: FS, fontFamily: FONT, align: 'left', verticalAlign: 'middle' } });
    });
  };
  legend(116, 1062);
  legend(759, 1062);
  return els;
}

export default function App() {
  const ref = useRef<HTMLDivElement>(null);
  useEffect(() => {
    if (!ref.current) return;
    const chart = echarts.init(ref.current, null, { renderer: 'svg' });
    chart.setOption(buildOption());
    chart.setOption({ graphic: buildGraphic(chart) });
    return () => chart.dispose();
  }, []);
  return <div ref={ref} style={{ position: 'fixed', left: 0, top: 0, width: 1280, height: 1236, background: '#fff' }} />;
}
